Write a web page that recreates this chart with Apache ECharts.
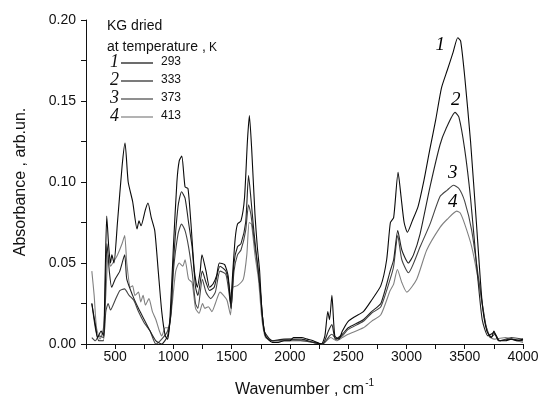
<!DOCTYPE html>
<html>
<head>
<meta charset="utf-8">
<script src="https://cdn.jsdelivr.net/npm/echarts@6/dist/echarts.min.js"></script>
<style>html,body{margin:0;padding:0;background:#fff;}#c{width:542px;height:403px;}</style>
</head>
<body>
<div id="c"></div>
<script>
// Wavenumber (cm-1) and absorbance for each curve
const wn1 = [300,330,350,380,400,415,428,445,460,472,490,520,560,585,612,650,688,705,722,760,782,810,840,870,900,930,950,970,1000,1030,1050,1072,1100,1125,1150,1180,1205,1230,1245,1280,1310,1340,1370,1395,1440,1470,1490,1510,1530,1550,1580,1610,1635,1652,1672,1700,1720,1740,1760,1790,1850,1900,1950,2000,2030,2060,2100,2150,2200,2270,2300,2325,2340,2360,2385,2420,2450,2500,2560,2630,2700,2780,2830,2862,2890,2928,2955,2980,3008,3050,3100,3150,3200,3250,3300,3350,3400,3440,3465,3500,3550,3600,3650,3690,3730,3750,3790,3850,3900,3950,4000];
const ab1 = [0.025,0.012,0.004,0.008,0.005,0.045,0.079,0.060,0.050,0.055,0.050,0.075,0.110,0.124,0.100,0.088,0.071,0.076,0.073,0.083,0.087,0.078,0.070,0.045,0.020,0.005,0.003,0.015,0.060,0.100,0.113,0.116,0.097,0.096,0.075,0.045,0.035,0.045,0.055,0.045,0.035,0.037,0.042,0.050,0.049,0.042,0.025,0.045,0.065,0.074,0.076,0.090,0.125,0.141,0.120,0.080,0.060,0.045,0.020,0.005,0.001,0.001,0.002,0.002,0.004,0.004,0.004,0.003,0.002,0.000,0.005,0.020,0.015,0.030,0.005,0.003,0.008,0.014,0.017,0.020,0.027,0.036,0.052,0.075,0.078,0.106,0.090,0.075,0.069,0.076,0.085,0.101,0.120,0.138,0.158,0.169,0.180,0.189,0.187,0.165,0.125,0.075,0.025,0.008,0.004,0.008,0.002,0.002,0.003,0.002,0.003];

const wn2 = [300,330,360,400,418,430,450,470,500,540,582,600,650,700,750,800,850,900,950,980,1000,1040,1070,1100,1130,1160,1190,1210,1248,1280,1310,1350,1400,1450,1480,1495,1520,1550,1580,1620,1645,1665,1690,1720,1750,1780,1850,1950,2000,2050,2100,2200,2280,2330,2360,2390,2450,2500,2630,2700,2780,2860,2890,2925,2960,3016,3060,3117,3202,3288,3340,3417,3450,3500,3550,3600,3650,3700,3750,3800,3900,4000];
const ab2 = [0.025,0.010,0.002,0.002,0.040,0.062,0.045,0.035,0.040,0.045,0.055,0.040,0.030,0.022,0.015,0.008,0.002,0.000,0.005,0.020,0.050,0.085,0.094,0.090,0.075,0.060,0.035,0.030,0.045,0.038,0.033,0.035,0.048,0.045,0.035,0.022,0.050,0.060,0.062,0.075,0.104,0.090,0.070,0.050,0.030,0.008,0.002,0.003,0.003,0.003,0.003,0.001,0.000,0.008,0.012,0.003,0.006,0.010,0.015,0.020,0.025,0.045,0.052,0.070,0.058,0.050,0.055,0.068,0.097,0.123,0.133,0.143,0.140,0.120,0.090,0.050,0.015,0.005,0.007,0.002,0.003,0.002];

const wn3 = [300,330,360,400,420,440,460,500,540,580,620,660,700,750,800,850,900,950,980,1000,1040,1070,1100,1130,1160,1190,1210,1248,1280,1320,1360,1400,1450,1480,1495,1520,1550,1580,1620,1645,1665,1700,1730,1760,1790,1850,2000,2100,2200,2280,2340,2360,2400,2450,2500,2630,2700,2780,2860,2890,2925,2960,3016,3117,3202,3288,3350,3403,3450,3500,3560,3620,3680,3720,3760,3800,3900,4000];
const ab3 = [0.004,0.002,0.005,0.004,0.020,0.025,0.021,0.027,0.033,0.034,0.030,0.027,0.020,0.013,0.008,0.000,0.003,0.008,0.020,0.045,0.068,0.074,0.070,0.060,0.045,0.025,0.022,0.040,0.032,0.028,0.032,0.045,0.043,0.030,0.022,0.045,0.055,0.058,0.070,0.086,0.080,0.060,0.045,0.020,0.005,0.002,0.002,0.002,0.001,0.000,0.005,0.006,0.003,0.005,0.009,0.014,0.019,0.023,0.040,0.048,0.067,0.052,0.044,0.060,0.074,0.091,0.095,0.098,0.096,0.088,0.070,0.040,0.012,0.004,0.006,0.002,0.004,0.003];

const wn4 = [300,320,340,370,400,420,440,460,480,520,560,582,600,630,650,670,700,720,740,760,790,820,850,880,900,930,960,990,1020,1050,1080,1100,1130,1160,1190,1220,1250,1270,1300,1330,1360,1400,1430,1460,1490,1510,1550,1600,1630,1650,1670,1700,1730,1760,1790,1850,2000,2100,2200,2280,2350,2400,2450,2500,2630,2700,2780,2860,2890,2922,2960,3003,3088,3174,3288,3350,3431,3460,3500,3560,3620,3680,3720,3760,3850,3900,4000];
const ab4 = [0.045,0.030,0.010,0.003,0.010,0.030,0.055,0.048,0.050,0.055,0.062,0.067,0.050,0.035,0.036,0.030,0.032,0.026,0.030,0.024,0.028,0.020,0.015,0.008,0.005,0.010,0.010,0.025,0.045,0.050,0.048,0.052,0.040,0.038,0.022,0.019,0.025,0.022,0.023,0.020,0.025,0.032,0.030,0.027,0.018,0.035,0.036,0.040,0.055,0.075,0.074,0.055,0.040,0.015,0.004,0.002,0.003,0.002,0.001,0.000,0.004,0.002,0.004,0.006,0.010,0.014,0.018,0.033,0.037,0.046,0.038,0.032,0.040,0.058,0.072,0.077,0.082,0.081,0.074,0.060,0.038,0.012,0.004,0.003,0.004,0.003,0.001];

const seriesNames = ['1','2','3','4'];
const temps = ['293','333','373','413'];
const colors = ['#0a0a0a','#222222','#444444','#808080'];
// curve number labels placed in data coordinates
const labelPos = [[3290,0.1848],[3423,0.1504],[3397,0.1058],[3397,0.0876]];

const xs = [wn1,wn2,wn3,wn4];
const ys = [ab1,ab2,ab3,ab4];

const chart = echarts.init(document.getElementById('c'), null, {renderer:'canvas'});

const series = xs.map((w,i)=>({
  name: seriesNames[i],
  type: 'line',
  data: w.map((x,j)=>[x, ys[i][j]]),
  showSymbol: false,
  symbol: 'none',
  smooth: 0.2,
  lineStyle: {color: colors[i], width: 1.1},
  animation: false,
  z: 10 - i
}));
series.push({
  type: 'scatter',
  data: labelPos.map((p,i)=>({value:p, label:{formatter: seriesNames[i]}})),
  symbol: 'circle',
  symbolSize: 1,
  itemStyle: {color: 'rgba(0,0,0,0)'},
  silent: true,
  animation: false,
  z: 20,
  label: {show: true, position: 'inside', fontFamily: 'Liberation Serif', fontStyle: 'italic', fontSize: 19, color: '#000', textBorderWidth: 0, opacity: 1}
});

const legendRows = [63, 81, 99, 117];
const graphic = [
  {type:'text', left:107, top:19, style:{text:'KG dried', font:'14px "Liberation Sans", Arial', fill:'#111'}},
  {type:'text', left:107, top:40, style:{text:'at temperature , ', font:'14px "Liberation Sans", Arial', fill:'#111'}},
  {type:'text', left:209, top:42, style:{text:'K', font:'12px "Liberation Sans", Arial', fill:'#111'}}
];
legendRows.forEach((y,i)=>{
  graphic.push({type:'text', left:110, top:y-10, style:{text:seriesNames[i], font:'italic 18px "Liberation Serif"', fill:'#111'}});
  graphic.push({type:'line', shape:{x1:121, y1:y, x2:153, y2:y}, style:{stroke:colors[i], lineWidth:1.2}});
  graphic.push({type:'text', left:161, top:y-7, style:{text:temps[i], font:'12px "Liberation Sans", Arial', fill:'#111'}});
});

chart.setOption({
  animation: false,
  backgroundColor: '#fff',
  grid: {left: 86, right: 19, top: 20, bottom: 54, containLabel: false},
  xAxis: {
    type: 'value', min: 250, max: 4000, interval: 250,
    name: '{a|Wavenumber , cm}{s|-1}',
    nameLocation: 'middle', nameGap: 34,
    nameTextStyle: {rich: {
      a: {fontSize: 16, fontFamily: 'Liberation Sans', color: '#111', verticalAlign: 'bottom'},
      s: {fontSize: 10, fontFamily: 'Liberation Sans', color: '#111', verticalAlign: 'top', padding: [0,0,10,1]}
    }},
    axisLine: {lineStyle: {color: '#111', width: 1}},
    axisTick: {inside: false, length: 5, lineStyle: {color: '#111'}},
    axisLabel: {
      margin: 6, fontSize: 14, fontFamily: 'Liberation Sans', color: '#111',
      formatter: v => (v % 500 === 0 ? String(v) : '')
    },
    splitLine: {show: false}
  },
  yAxis: {
    type: 'value', min: 0, max: 0.2, interval: 0.025,
    name: 'Absorbance , arb.un.',
    nameLocation: 'middle', nameGap: 57,
    nameTextStyle: {fontSize: 16, fontFamily: 'Liberation Sans', color: '#111'},
    axisLine: {show: true, lineStyle: {color: '#111', width: 1}},
    axisTick: {show: true, inside: false, length: 5, lineStyle: {color: '#111'}},
    axisLabel: {
      margin: 10, fontSize: 14, fontFamily: 'Liberation Sans', color: '#111',
      formatter: v => {const r = v/0.05; return Math.abs(r-Math.round(r))<1e-6 ? v.toFixed(2) : '';}
    },
    splitLine: {show: false}
  },
  graphic: graphic,
  series: series
});
</script>
</body>
</html>
